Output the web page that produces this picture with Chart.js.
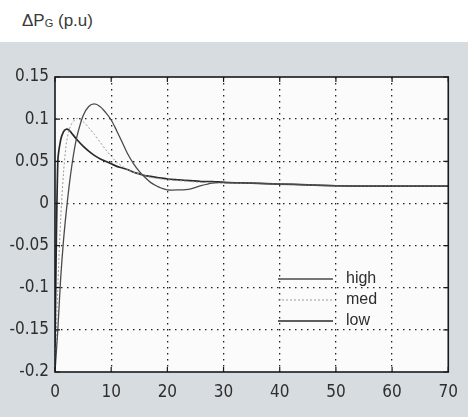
<!DOCTYPE html>
<html>
<head>
<meta charset="utf-8">
<script src="https://cdn.jsdelivr.net/npm/chart.js@4"></script>
<style>
  html, body { margin: 0; padding: 0; background: #fff; }
  #wrap { position: relative; width: 468px; height: 417px; overflow: hidden; }
  #paper { position: absolute; left: 0; top: 42px; width: 468px; height: 375px; background: #d7dce1; }
  #title { position: absolute; left: 22px; top: 11px; font: 17px "Liberation Sans", Arial, sans-serif; color: #3a3a3a; }
  #title sub { font-size: 11px; vertical-align: -1px; }
  canvas { position: absolute; left: 0; top: 0; }
</style>
</head>
<body>
<div id="wrap">
  <div id="paper"></div>
  <div id="title">ΔP<sub>G</sub> (p.u)</div>
  <canvas id="chart" width="468" height="417"></canvas>
</div>
<script>
// time axis (s) and the three responses
const time = [0, 0.5, 1, 1.5, 2, 2.5, 3, 3.5, 4, 5, 6, 7, 8, 9, 10, 11, 12, 13, 14, 15, 16, 17, 18, 19, 20, 22, 24, 26, 28, 30, 35, 40, 45, 50, 55, 60, 65, 70];
const high = [-0.2, -0.15, -0.09, -0.045, -0.01, 0.02, 0.045, 0.066, 0.082, 0.104, 0.115, 0.118, 0.115, 0.108, 0.099, 0.086, 0.072, 0.058, 0.047, 0.038, 0.031, 0.025, 0.021, 0.018, 0.016, 0.016, 0.017, 0.021, 0.024, 0.025, 0.024, 0.023, 0.022, 0.021, 0.0205, 0.0205, 0.0205, 0.0205];
const med = [-0.2, -0.1, -0.02, 0.035, 0.07, 0.087, 0.095, 0.099, 0.101, 0.097, 0.09, 0.082, 0.073, 0.064, 0.056, 0.049, 0.044, 0.04, 0.037, 0.035, 0.033, 0.031, 0.03, 0.029, 0.028, 0.027, 0.026, 0.025, 0.025, 0.024, 0.024, 0.023, 0.022, 0.021, 0.0205, 0.0205, 0.0205, 0.0205];
const low = [-0.17, 0.05, 0.075, 0.085, 0.088, 0.087, 0.083, 0.079, 0.075, 0.068, 0.062, 0.057, 0.053, 0.05, 0.047, 0.044, 0.042, 0.04, 0.037, 0.035, 0.033, 0.032, 0.031, 0.03, 0.029, 0.028, 0.027, 0.026, 0.026, 0.025, 0.024, 0.023, 0.022, 0.021, 0.0205, 0.0205, 0.0205, 0.0205];
const seriesNames = ["high", "med", "low"];

const pts = (arr) => arr.map((v, i) => ({ x: time[i], y: v }));

// white plot area + box frame with inward ticks
const frame = {
  id: "frame",
  beforeDraw(chart) {
    const { ctx, chartArea: a } = chart;
    ctx.save();
    ctx.fillStyle = "#fbfbfb";
    ctx.fillRect(a.left, a.top, a.right - a.left, a.bottom - a.top);
    ctx.restore();
  },
  afterDraw(chart) {
    const { ctx, chartArea: a, scales } = chart;
    ctx.save();
    ctx.strokeStyle = "#1a1a1a";
    ctx.lineWidth = 1.6;
    ctx.strokeRect(a.left, a.top, a.right - a.left, a.bottom - a.top);
    ctx.lineWidth = 1.2;
    ctx.beginPath();
    scales.x.ticks.forEach(t => {
      const px = scales.x.getPixelForValue(t.value);
      ctx.moveTo(px, a.bottom); ctx.lineTo(px, a.bottom - 5);
      ctx.moveTo(px, a.top); ctx.lineTo(px, a.top + 5);
    });
    scales.y.ticks.forEach(t => {
      const py = scales.y.getPixelForValue(t.value);
      ctx.moveTo(a.left, py); ctx.lineTo(a.left + 5, py);
      ctx.moveTo(a.right, py); ctx.lineTo(a.right - 5, py);
    });
    ctx.stroke();

    // legend inside the plot
    const ds = chart.data.datasets;
    ctx.font = '16px "Liberation Sans", Arial, sans-serif';
    ctx.textBaseline = "middle";
    ds.forEach((d, i) => {
      const y = 279 + i * 21;
      ctx.strokeStyle = d.borderColor;
      ctx.lineWidth = d.borderWidth;
      ctx.setLineDash(d.borderDash || []);
      ctx.beginPath();
      ctx.moveTo(278, y); ctx.lineTo(333, y);
      ctx.stroke();
      ctx.setLineDash([]);
      ctx.fillStyle = "#2e2e2e";
      ctx.fillText(d.label, 346, y);
    });
    ctx.restore();
  }
};

new Chart(document.getElementById("chart").getContext("2d"), {
  type: "line",
  data: {
    datasets: [
      { label: seriesNames[0], data: pts(high), borderColor: "#4a4a4a", borderWidth: 1.3, pointRadius: 0, tension: 0.3 },
      { label: seriesNames[1], data: pts(med), borderColor: "#9a9a9a", borderWidth: 1, borderDash: [2, 2], pointRadius: 0, tension: 0.3 },
      { label: seriesNames[2], data: pts(low), borderColor: "#2a2a2a", borderWidth: 1.7, pointRadius: 0, tension: 0.3 }
    ]
  },
  options: {
    responsive: false,
    animation: false,
    layout: { padding: { top: 77, right: 17, left: 0, bottom: 0 } },
    plugins: { legend: { display: false }, tooltip: { enabled: false } },
    scales: {
      x: {
        type: "linear", min: 0, max: 70,
        ticks: { stepSize: 10, padding: 10, color: "#2e2e2e", font: { family: "DejaVu Sans Condensed", size: 17 } },
        grid: { drawTicks: false, color: (c) => (c.tick.value === 0 || c.tick.value === 70) ? "transparent" : "#222", lineWidth: 1.3 },
        border: { display: false, dash: [1.5, 4.5] },
        afterFit: (s) => { s.height = 45; }
      },
      y: {
        min: -0.2, max: 0.15,
        ticks: { stepSize: 0.05, padding: 6, color: "#2e2e2e", font: { family: "DejaVu Sans Condensed", size: 17 },
          callback: (v) => String(Number(v.toFixed(2))) },
        grid: { drawTicks: false, color: (c) => (Math.abs(c.tick.value - 0.15) < 1e-6 || Math.abs(c.tick.value + 0.2) < 1e-6) ? "transparent" : "#222", lineWidth: 1.3 },
        border: { display: false, dash: [1.5, 4.5] },
        afterFit: (s) => { s.width = 55; }
      }
    }
  },
  plugins: [frame]
});
</script>
</body>
</html>
